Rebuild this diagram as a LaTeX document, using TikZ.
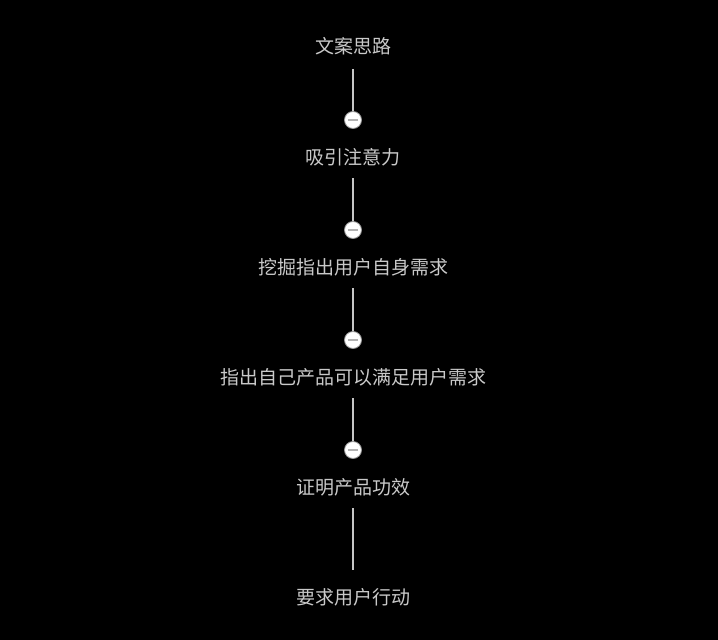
\documentclass[tikz,border=0pt]{standalone}
\usepackage{fontspec}
\newfontfamily\cjk{Noto Sans CJK SC}
\begin{document}
\begin{tikzpicture}[x=1pt,y=-1pt,
  lbl/.style={font=\cjk\fontsize{19}{19}\selectfont, text=black!30!white!70, inner sep=0pt},
  conn/.style={draw=black!30!white!75, line width=1.2pt},
  tog/.style={circle, fill=white, draw=black!40!white, line width=0.8pt, minimum size=17pt, inner sep=0pt}]
\fill[black] (0,0) rectangle (718,640);
\useasboundingbox (0,0) rectangle (718,640);
\node[lbl] (n1) at (353,46) {文案思路};
\node[lbl] (n2) at (353,157) {吸引注意力};
\node[lbl] (n3) at (353,267) {挖掘指出用户自身需求};
\node[lbl] (n4) at (353,377) {指出自己产品可以满足用户需求};
\node[lbl] (n5) at (353,487) {证明产品功效};
\node[lbl] (n6) at (353,597) {要求用户行动};
\node[tog] (c1) at (353,120) {};
\node[tog] (c2) at (353,230) {};
\node[tog] (c3) at (353,340) {};
\node[tog] (c4) at (353,450) {};
\foreach \c in {c1,c2,c3,c4}{\draw[draw=black!50!white!60, line width=1.4pt] ([xshift=-5pt]\c.center) -- ([xshift=5pt]\c.center);}
\draw[conn] ([yshift=-14pt]n1.south) -- (c1.north);
\draw[conn] ([yshift=-12pt]n2.south) -- (c2.north);
\draw[conn] ([yshift=-12pt]n3.south) -- (c3.north);
\draw[conn] ([yshift=-12pt]n4.south) -- (c4.north);
\draw[conn] ([yshift=-12pt]n5.south) -- ([yshift=18pt]n6.north);
\end{tikzpicture}
\end{document}
